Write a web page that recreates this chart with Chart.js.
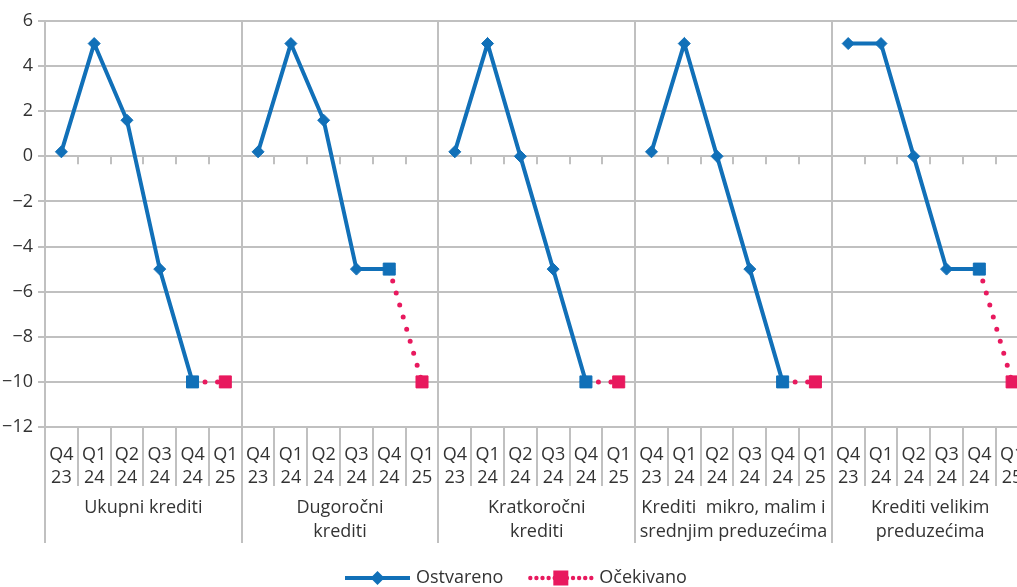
<!DOCTYPE html>
<html>
<head>
<meta charset="utf-8">
<script src="https://cdn.jsdelivr.net/npm/chart.js@4"></script>
<style>
  html, body { margin: 0; padding: 0; background: #fff; overflow: hidden; }
  #wrap { width: 1038px; height: 587px; position: relative; }
</style>
</head>
<body>
<div id="wrap"><canvas id="c"></canvas></div>
<script>
// Quarter labels repeated under each loan group
const quarterLabels = [['Q4', '23'], ['Q1', '24'], ['Q2', '24'], ['Q3', '24'], ['Q4', '24'], ['Q1', '25']];
const groupLabels = [
  ['Ukupni krediti'],
  ['Dugoročni', 'krediti'],
  ['Kratkoročni', 'krediti'],
  ['Krediti  mikro, malim i', 'srednjim preduzećima'],
  ['Krediti velikim', 'preduzećima']
];
const seriesNames = ['Ostvareno', 'Očekivano'];

// Realised values (net percentage), one block of six quarters per group
const ostvareno = [
  0.2, 5, 1.6, -5, -10, null,
  0.2, 5, 1.6, -5, -5, null,
  0.2, 5, 0, -5, -10, null,
  0.2, 5, 0, -5, -10, null,
  5, 5, 0, -5, -5, null
];
// Expected values: last realised quarter and the next quarter
const ocekivano = [
  null, null, null, null, -10, -10,
  null, null, null, null, -5, -10,
  null, null, null, null, -10, -10,
  null, null, null, null, -10, -10,
  null, null, null, null, -5, -10
];
const yMin = -12, yMax = 6, yStep = 2;

const BLUE = '#1170b8';
const PINK = '#e8195e';
const GRID = '#c0c0c0';
const TEXT = '#333333';
const FONT = '"Open Sans", "Noto Sans", sans-serif';

const labels = [];
groupLabels.forEach(() => quarterLabels.forEach(q => labels.push(q)));

Chart.defaults.font.family = FONT;
Chart.defaults.font.size = 18;
Chart.defaults.color = TEXT;

// Group separators, inner category ticks, group titles and the legend
const frame = {
  id: 'frame',
  beforeDatasetsDraw(chart) {
    const { ctx, chartArea: a, scales: { x, y } } = chart;
    const n = chart.data.labels.length;
    const edge = i => i === 0 ? a.left : i === n ? a.right
      : (x.getPixelForValue(i - 1) + x.getPixelForValue(i)) / 2;
    const zero = y.getPixelForValue(0);
    ctx.save();
    ctx.strokeStyle = GRID;
    ctx.lineWidth = 2;
    for (let i = 0; i <= n; i++) {
      const px = Math.round(edge(i));
      ctx.beginPath();
      if (i % quarterLabels.length === 0) {
        ctx.moveTo(px, a.top);
        ctx.lineTo(px, a.bottom + 116);
      } else {
        ctx.moveTo(px, zero);
        ctx.lineTo(px, zero + 8);
        ctx.moveTo(px, a.bottom);
        ctx.lineTo(px, a.bottom + 59);
      }
      ctx.stroke();
    }
    ctx.restore();
  },
  afterDraw(chart) {
    const { ctx, chartArea: a, scales: { x } } = chart;
    const per = quarterLabels.length;
    ctx.save();
    ctx.fillStyle = TEXT;
    ctx.font = '18px ' + FONT;
    ctx.textAlign = 'center';
    ctx.textBaseline = 'middle';
    groupLabels.forEach((lines, g) => {
      const cx = (x.getPixelForValue(g * per) + x.getPixelForValue(g * per + per - 1)) / 2;
      lines.forEach((t, k) => ctx.fillText(t, cx, a.bottom + 81 + k * 24));
    });

    // legend
    const ly = 578, symW = 65, gap = 6, itemGap = 25;
    ctx.textAlign = 'left';
    const widths = seriesNames.map(s => ctx.measureText(s).width);
    let lx = 345;
    seriesNames.forEach((name, i) => {
      const cx = lx + symW / 2;
      if (i === 0) {
        ctx.strokeStyle = BLUE;
        ctx.lineWidth = 4;
        ctx.beginPath();
        ctx.moveTo(lx, ly);
        ctx.lineTo(lx + symW, ly);
        ctx.stroke();
        ctx.fillStyle = BLUE;
        ctx.beginPath();
        ctx.moveTo(cx - 7, ly);
        ctx.lineTo(cx, ly - 7);
        ctx.lineTo(cx + 7, ly);
        ctx.lineTo(cx, ly + 7);
        ctx.closePath();
        ctx.fill();
      } else {
        ctx.fillStyle = PINK;
        for (let d = lx + 2; d <= lx + symW - 1; d += 6.1) {
          ctx.beginPath();
          ctx.arc(d, ly, 2.2, 0, Math.PI * 2);
          ctx.fill();
        }
        ctx.fillRect(cx - 7.5, ly - 7.5, 15, 15);
      }
      ctx.fillStyle = TEXT;
      ctx.fillText(name, lx + symW + gap, ly);
      lx += symW + gap + widths[i] + itemGap;
    });
    ctx.restore();
  }
};

new Chart(document.getElementById('c'), {
  type: 'line',
  data: {
    labels,
    datasets: [
      {
        label: seriesNames[0],
        data: ostvareno,
        order: 1,
        borderColor: BLUE,
        backgroundColor: BLUE,
        borderWidth: 4,
        pointStyle: 'rectRot',
        pointRadius: 6,
        pointBorderWidth: 1,
        pointBackgroundColor: BLUE,
        pointBorderColor: BLUE,
        tension: 0,
        spanGaps: false
      },
      {
        label: seriesNames[1],
        data: ocekivano,
        order: 0,
        borderColor: PINK,
        backgroundColor: PINK,
        borderWidth: 5,
        borderDash: [0, 12.5],
        borderCapStyle: 'round',
        pointStyle: 'rect',
        pointRadius: 8.5,
        pointBorderWidth: 1,
        pointBackgroundColor: c => c.dataIndex % quarterLabels.length === 4 ? BLUE : PINK,
        pointBorderColor: c => c.dataIndex % quarterLabels.length === 4 ? BLUE : PINK,
        tension: 0,
        spanGaps: false
      }
    ]
  },
  options: {
    responsive: true,
    maintainAspectRatio: false,
    animation: false,
    layout: { padding: { left: 0, top: 21, right: 4, bottom: 0 } },
    plugins: {
      legend: { display: false },
      tooltip: { enabled: false }
    },
    scales: {
      x: {
        offset: true,
        grid: { display: false, drawTicks: false },
        border: { display: false },
        ticks: {
          autoSkip: false,
          maxRotation: 0,
          minRotation: 0,
          padding: 16,
          color: TEXT,
          font: { size: 18, lineHeight: 1.28 }
        },
        afterFit(scale) {
          scale.height = 160;
          scale.paddingLeft = 0;
          scale.paddingRight = 0;
        }
      },
      y: {
        min: yMin,
        max: yMax,
        border: { display: false },
        grid: { color: GRID, lineWidth: 2, drawTicks: true, tickLength: 7, tickColor: GRID },
        ticks: {
          stepSize: yStep,
          padding: 5,
          color: TEXT,
          font: { size: 18 },
          callback: v => v < 0 ? '\u2212' + Math.abs(v) : String(v)
        },
        afterFit(scale) { scale.width = 45; }
      }
    }
  },
  plugins: [frame]
});
</script>
</body>
</html>
